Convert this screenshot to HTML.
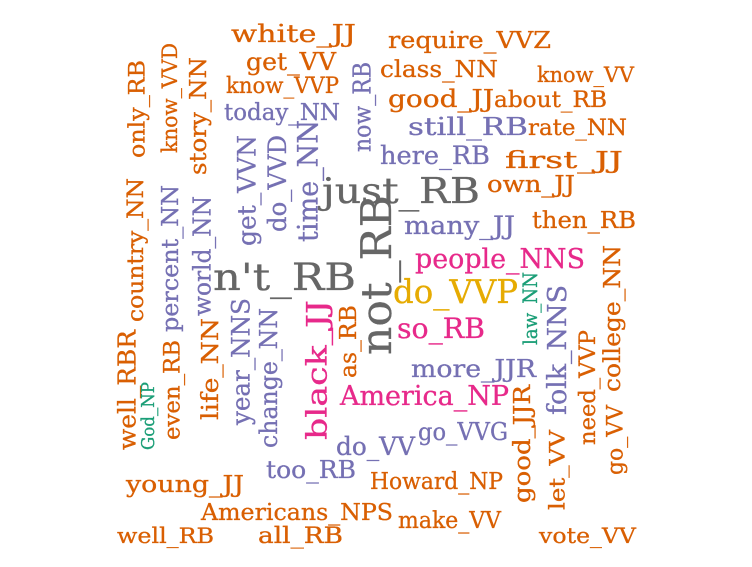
<!DOCTYPE html>
<html><head><meta charset="utf-8"><style>
html,body{margin:0;padding:0;background:#fff;width:752px;height:567px;overflow:hidden}
svg text{font-family:"DejaVu Serif","Liberation Serif",serif;stroke-width:0.3px}
</style></head><body>
<svg id="cloud" width="752" height="567" viewBox="0 0 752 567" xmlns="http://www.w3.org/2000/svg"></svg>
<script>
const words = ["white_JJ","get_VV","know_VVP","today_NN","require_VVZ","class_NN","know_VV","good_JJ","about_RB","still_RB","rate_NN","here_RB","first_JJ","just_RB","own_JJ","then_RB","many_JJ","people_NNS","n't_RB","do_VVP","so_RB","more_JJR","America_NP","do_VV","go_VVG","too_RB","Howard_NP","young_JJ","Americans_NPS","make_VV","well_RB","all_RB","vote_VV",
"only_RB","know_VVD","story_NN","country_NN","percent_NN","world_NN","get_VVN","do_VVD","time_NN","now_RB","not_RB","well_RBR","God_NP","even_RB","life_NN","year_NNS","change_NN","black_JJ","as_RB","law_NN","folk_NNS","good_JJR","let_VV","need_VVP","go_VV","college_NN"];
const colors = ["o","o","o","p","o","o","o","o","o","p","o","p","o","g","o","o","p","k","g","y","k","p","k","p","p","p","o","o","o","o","o","o","o",
"o","o","o","o","p","p","p","p","p","p","g","o","t","o","o","p","p","k","o","t","p","o","o","o","o","o"];
// layout: [left/baselineX, baseline/bottomY, extent(px), vertical]
const xs = [231,246,226,224,388,380,537,388,494,408,528,380,505,322,487,532,404,415,213,393,397,411,340,336,418,266,370,126,201,398,117,258,539,
127,160,188,125,160,192,236,266,296,352,358,117,140,162,200,230,258,305,338,522,546,512,548,577,605,602];
const ys = [42,70,93,120,48,77,82,107,107,135,135,164,168,203,192,228,234,268,290,303,338,377,405,455,440,478,489,492,520,528,543,543,543,
158,153,175,322,332,316,246,232,242,152,355,450,450,440,420,425,448,440,378,345,415,503,510,445,475,392];
const ext = [125,90,113,116,163,118,97,106,113,120,99,110,118,158,88,104,111,170,143,125,88,125,169,79,90,90,133,118,192,103,97,85,97,
98,110,118,144,147,120,111,97,122,90,160,120,68,100,102,127,140,140,73,73,130,118,80,115,70,147];
const vert = xs.map((_,i)=> i>=33);
const palette = {o:"#D95F02",p:"#7570B3",k:"#E7298A",g:"#666666",y:"#E6AB02",t:"#1B9E77"};
const svg = document.getElementById('cloud');
const NS = "http://www.w3.org/2000/svg";
words.forEach((w,i)=>{
  const n = w.length;
  const size = ext[i]/(n*0.6)*0.95;
  const t = document.createElementNS(NS,'text');
  t.textContent = w;
  t.setAttribute('font-size', size.toFixed(1));
  t.setAttribute('fill', palette[colors[i]]);
  t.setAttribute('stroke', palette[colors[i]]);
  t.setAttribute('textLength', ext[i]);
  t.setAttribute('lengthAdjust','spacingAndGlyphs');
  if (vert[i]) {
    const bx = xs[i] + size*0.78;
    t.setAttribute('x', 0); t.setAttribute('y', 0);
    t.setAttribute('transform', `translate(${bx.toFixed(1)},${ys[i]}) rotate(-90)`);
  } else {
    t.setAttribute('x', xs[i]); t.setAttribute('y', ys[i]);
  }
  
  
  svg.appendChild(t);
});
</script>
</body></html>
